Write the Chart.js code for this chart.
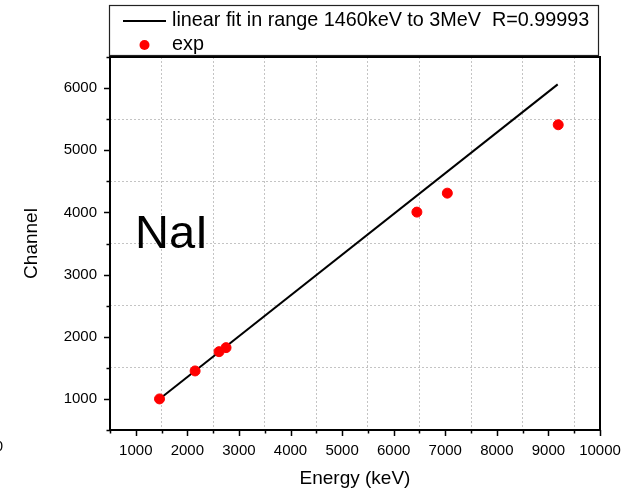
<!DOCTYPE html>
<html>
<head>
<meta charset="utf-8">
<script src="https://cdn.jsdelivr.net/npm/chart.js@4/dist/chart.umd.min.js"></script>
<style>
  html,body{margin:0;padding:0;background:#fff;}
  #wrap{width:625px;height:493px;position:relative;}
</style>
</head>
<body>
<div id="wrap"><canvas id="calib"></canvas></div>
<script>
// measured peaks: gamma energy (keV) vs channel
const energyKeV = [1460, 2150, 2614, 2750, 6450, 7040, 9190];
const channel   = [1000, 1450, 1760, 1825, 4005, 4310, 5410];

// straight-line fit drawn between its two end points
const fitEnergy  = [1460, 9180];
const fitChannel = [1000, 6060];

const xTicks = [1000, 2000, 3000, 4000, 5000, 6000, 7000, 8000, 9000, 10000];
const yTicks = [1000, 2000, 3000, 4000, 5000, 6000];

const FONT = 'Liberation Sans, Arial, sans-serif';

// frame, tick marks, legend box and the detector label
const decor = {
  id: 'decor',
  afterDraw(chart) {
    const {ctx, chartArea: a, scales: {x, y}} = chart;
    ctx.save();
    ctx.strokeStyle = '#000';
    ctx.lineWidth = 1.5;
    // outward ticks: long at labelled values, short in between
    ctx.beginPath();
    for (let v = x.min; v <= x.max; v += 500) {
      const px = Math.round(x.getPixelForValue(v)) + 0.5;
      const len = xTicks.includes(v) ? 6 : 3.5;
      ctx.moveTo(px, a.bottom); ctx.lineTo(px, a.bottom + len);
    }
    for (let v = y.min; v <= y.max; v += 500) {
      const py = Math.round(y.getPixelForValue(v)) + 0.5;
      const len = yTicks.includes(v) ? 6 : 3.5;
      ctx.moveTo(a.left, py); ctx.lineTo(a.left - len, py);
    }
    ctx.stroke();
    // plot frame
    ctx.lineWidth = 2;
    ctx.strokeRect(a.left, a.top, a.right - a.left, a.bottom - a.top);

    // legend
    ctx.lineWidth = 1.2;
    ctx.strokeStyle = '#222';
    ctx.fillStyle = '#fff';
    ctx.fillRect(109.5, 5.5, 489, 50);
    ctx.strokeRect(109.5, 5.5, 489, 50);
    ctx.strokeStyle = '#000';
    ctx.lineWidth = 2;
    ctx.beginPath(); ctx.moveTo(123, 21); ctx.lineTo(166, 21); ctx.stroke();
    ctx.fillStyle = '#ff0000';
    ctx.beginPath(); ctx.arc(144.5, 45, 5, 0, Math.PI * 2); ctx.fill();
    ctx.fillStyle = '#000';
    ctx.font = '19.8px ' + FONT;
    ctx.textBaseline = 'middle';
    ctx.textAlign = 'left';
    ctx.fillText(chart.data.datasets[0].label, 172, 21);
    ctx.fillText(chart.data.datasets[1].label, 172, 45);

    // detector label
    ctx.font = '47px ' + FONT;
    ctx.textBaseline = 'alphabetic';
    ctx.fillText('NaI', 135, 248);

    // clipped digit at the far left edge
    ctx.font = '15px ' + FONT;
    ctx.textAlign = 'right';
    ctx.fillText('0', 3, 451);
    ctx.restore();
  }
};

const gridColor = c => (c.tick && c.tick.value % 1000 === 500 && c.index > 0) ? '#c4c4c4' : 'rgba(0,0,0,0)';

new Chart(document.getElementById('calib'), {
  type: 'scatter',
  data: {
    datasets: [
      {
        type: 'line',
        label: 'linear fit in range 1460keV to 3MeV  R=0.99993',
        data: fitEnergy.map((e, i) => ({x: e, y: fitChannel[i]})),
        borderColor: '#000',
        borderWidth: 2,
        pointRadius: 0,
        fill: false,
        order: 2
      },
      {
        label: 'exp',
        data: energyKeV.map((e, i) => ({x: e, y: channel[i]})),
        backgroundColor: '#ff0000',
        borderColor: '#ff0000',
        pointRadius: 5,
        pointHoverRadius: 5,
        order: 1
      }
    ]
  },
  options: {
    responsive: true,
    maintainAspectRatio: false,
    animation: false,
    events: [],
    layout: {padding: {top: 57, right: 25, left: 0, bottom: 0}},
    plugins: {legend: {display: false}, tooltip: {enabled: false}},
    scales: {
      x: {
        type: 'linear',
        min: 500, max: 10000,
        afterFit: s => { s.height = 63; s.paddingLeft = 0; s.paddingRight = 0; },
        ticks: {
          stepSize: 500, autoSkip: false, maxRotation: 0,
          padding: 12, color: '#000',
          font: {family: FONT, size: 15},
          callback: v => xTicks.includes(v) ? String(v) : ''
        },
        grid: {drawTicks: false, color: gridColor, lineWidth: 1},
        border: {display: false, dash: [2, 2]},
        title: {display: true, text: 'Energy (keV)', color: '#000',
                font: {family: FONT, size: 19}, padding: {top: 4, bottom: 3}}
      },
      y: {
        type: 'linear',
        min: 500, max: 6500,
        afterFit: s => { s.width = 110; s.paddingTop = 0; s.paddingBottom = 0; },
        ticks: {
          stepSize: 500, autoSkip: false,
          padding: 13, color: '#000',
          font: {family: FONT, size: 15},
          callback: v => yTicks.includes(v) ? String(v) : ''
        },
        grid: {drawTicks: false, color: gridColor, lineWidth: 1},
        border: {display: false, dash: [2, 2]},
        title: {display: true, text: 'Channel', color: '#000',
                font: {family: FONT, size: 19}, padding: {top: 20, bottom: 0}}
      }
    }
  },
  plugins: [decor]
});
</script>
</body>
</html>
